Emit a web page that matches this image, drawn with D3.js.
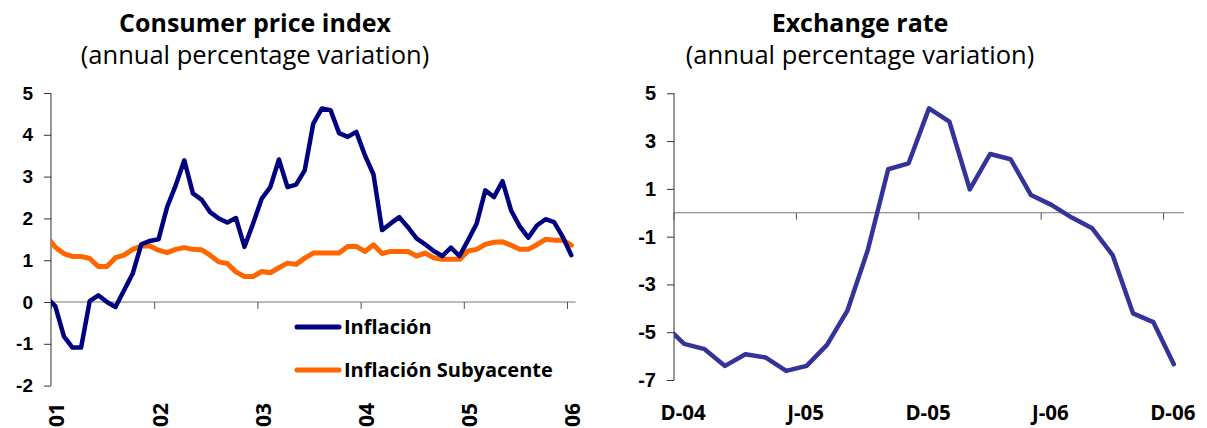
<!DOCTYPE html>
<html>
<head>
<meta charset="utf-8">
<script src="https://cdn.jsdelivr.net/npm/d3@7"></script>
<style>
  body { margin: 0; background: #fff; }
  svg { display: block; font-family: "Open Sans", Lato, sans-serif; }
</style>
</head>
<body>
<script>
// left panel: monthly, Dec-00 (cut off by the axis) then Jan-01 .. Jan-06
var yearLabels = ["01", "02", "03", "04", "05", "06"];
var inflacion = [0.1,
  -0.1, -0.82, -1.09, -1.09, 0.02, 0.16, 0.0, -0.12, 0.28, 0.68, 1.38, 1.46,
  1.5, 2.27, 2.79, 3.39, 2.6, 2.45, 2.15, 2.0, 1.9, 2.01, 1.32, 1.88,
  2.47, 2.75, 3.41, 2.75, 2.81, 3.15, 4.27, 4.63, 4.59, 4.04, 3.95, 4.07,
  3.51, 3.05, 1.72, 1.88, 2.03, 1.79, 1.52, 1.38, 1.22, 1.1, 1.3, 1.1,
  1.48, 1.88, 2.67, 2.51, 2.89, 2.19, 1.81, 1.54, 1.83, 1.98, 1.91, 1.56,
  1.12];
var subyacente = [1.57,
  1.31, 1.16, 1.09, 1.09, 1.04, 0.85, 0.85, 1.06, 1.12, 1.26, 1.34, 1.34,
  1.24, 1.18, 1.26, 1.30, 1.26, 1.25, 1.12, 0.96, 0.92, 0.72, 0.61, 0.61,
  0.73, 0.70, 0.82, 0.93, 0.90, 1.05, 1.17, 1.17, 1.17, 1.17, 1.33, 1.33,
  1.21, 1.37, 1.16, 1.21, 1.21, 1.21, 1.10, 1.17, 1.06, 1.02, 1.02, 1.02,
  1.22, 1.26, 1.38, 1.43, 1.44, 1.36, 1.26, 1.26, 1.37, 1.5, 1.48, 1.48,
  1.36];
var cpiTicks = [-2, -1, 0, 1, 2, 3, 4, 5];

// right panel: monthly, Nov-04 (cut off by the axis) then Dec-04 .. Dec-06
var fxMonths = ["Nov-04", "Dec-04", "Jan-05", "Feb-05", "Mar-05", "Apr-05", "May-05",
  "Jun-05", "Jul-05", "Aug-05", "Sep-05", "Oct-05", "Nov-05", "Dec-05", "Jan-06",
  "Feb-06", "Mar-06", "Apr-06", "May-06", "Jun-06", "Jul-06", "Aug-06", "Sep-06",
  "Oct-06", "Nov-06", "Dec-06"];
var tipoCambio = [-4.67, -5.49, -5.71, -6.41, -5.92, -6.06, -6.62, -6.41, -5.53, -4.10,
  -1.56, 1.82, 2.07, 4.37, 3.81, 0.98, 2.46, 2.24, 0.74, 0.33, -0.2, -0.65, -1.77,
  -4.21, -4.58, -6.34];
var fxTickMonths = ["Dec-04", "Jun-05", "Dec-05", "Jun-06", "Dec-06"];
var fxTickLabels = ["D-04", "J-05", "D-05", "J-06", "D-06"];
var fxTicks = [-7, -5, -3, -1, 1, 3, 5];

var W = 1207, H = 428;
var svg = d3.select("body").append("svg").attr("width", W).attr("height", H);

// plain hyphen for negatives, like the original
var fmt = function(d) { return String(d); };

function title(cx, main) {
  svg.append("text").attr("x", cx).attr("y", 32).attr("text-anchor", "middle")
    .style("font-size", "25px").style("font-weight", "bold").text(main);
  svg.append("text").attr("x", cx).attr("y", 64).attr("text-anchor", "middle")
    .style("font-size", "25.5px").text("(annual percentage variation)");
}

// ---------- left: consumer price index ----------
title(255, "Consumer price index");

var x1 = d3.scaleLinear().domain([0, 61]).range([51, 575.6]),
    y1 = d3.scaleLinear().domain([-2, 5]).range([385.6, 93]),
    yr = d3.scalePoint().domain(yearLabels).range([x1(0), x1(60)]);

svg.append("defs").append("clipPath").attr("id", "clipL")
  .append("rect").attr("x", 51).attr("y", 0).attr("width", 560).attr("height", H);
svg.append("defs").append("clipPath").attr("id", "clipR")
  .append("rect").attr("x", 674).attr("y", 0).attr("width", 533).attr("height", H);

var gy1 = svg.append("g").attr("transform", "translate(51,0)")
  .call(d3.axisLeft(y1).tickValues(cpiTicks).tickSize(7).tickPadding(11).tickFormat(fmt));
gy1.select(".domain").attr("stroke", "#333").attr("d", "M0," + y1(-2) + "V" + y1(5));
gy1.selectAll(".tick line").attr("stroke", "#333");
gy1.selectAll(".tick text").style("font-size", "19px").style("font-weight", "bold").attr("fill", "#000");

// zero line with year ticks
var gx1 = svg.append("g").attr("transform", "translate(0," + y1(0) + ")")
  .call(d3.axisBottom(yr).tickSize(7).tickFormat(""));
gx1.select(".domain").attr("stroke", "#777").attr("d", "M51,0H575.6");
gx1.selectAll(".tick line").attr("stroke", "#555");

svg.append("g").selectAll("text").data(yearLabels).enter().append("text")
  .attr("transform", function(d) { return "translate(" + (yr(d) + 6) + ",403) rotate(-90)"; })
  .attr("text-anchor", "end").attr("dy", "0.35em")
  .style("font-size", "21px").style("font-weight", "bold")
  .text(function(d) { return d; });

var line1 = d3.line()
  .x(function(d, i) { return x1(i - 0.5); })
  .y(function(d) { return y1(d); });

var left = svg.append("g").attr("clip-path", "url(#clipL)");
left.append("path").attr("d", line1(subyacente)).attr("fill", "none")
  .attr("stroke", "#ff6600").attr("stroke-width", 5)
  .attr("stroke-linejoin", "round").attr("stroke-linecap", "round");
left.append("path").attr("d", line1(inflacion)).attr("fill", "none")
  .attr("stroke", "#000080").attr("stroke-width", 4.5)
  .attr("stroke-linejoin", "round").attr("stroke-linecap", "round");

// legend
var legend = [{name: "Inflación", color: "#000080", y: 327},
              {name: "Inflación Subyacente", color: "#ff6600", y: 370}];
var lg = svg.append("g").selectAll("g").data(legend).enter().append("g");
lg.append("line").attr("x1", 297).attr("x2", 339)
  .attr("y1", function(d) { return d.y; }).attr("y2", function(d) { return d.y; })
  .attr("stroke", function(d) { return d.color; }).attr("stroke-width", 5)
  .attr("stroke-linecap", "round");
lg.append("text").attr("x", 344).attr("y", function(d) { return d.y + 7; })
  .style("font-size", "20px").style("font-weight", "bold")
  .text(function(d) { return d.name; });

// ---------- right: exchange rate ----------
title(860, "Exchange rate");

var x2 = d3.scaleBand().domain(fxMonths).range([674 - 20.4, 1184]),
    y2 = d3.scaleLinear().domain([-7, 5]).range([380, 93.3]);

var gy2 = svg.append("g").attr("transform", "translate(674,0)")
  .call(d3.axisLeft(y2).tickValues(fxTicks).tickSize(7).tickPadding(11).tickFormat(fmt));
gy2.select(".domain").attr("stroke", "#333").attr("d", "M0," + y2(-7) + "V" + y2(5));
gy2.selectAll(".tick line").attr("stroke", "#333");
gy2.selectAll(".tick text").style("font-size", "20px").style("font-weight", "bold").attr("fill", "#000");

var gx2 = svg.append("g").attr("transform", "translate(0," + y2(0) + ")");
gx2.append("line").attr("x1", 674).attr("x2", 1184).attr("stroke", "#777");
gx2.selectAll("line.tk").data(fxTickMonths).enter().append("line").attr("class", "tk")
  .attr("x1", function(d) { return x2(d); }).attr("x2", function(d) { return x2(d); })
  .attr("y1", 0).attr("y2", 7).attr("stroke", "#555");

svg.append("g").selectAll("text").data(fxTickMonths).enter().append("text")
  .attr("x", function(d) { return x2(d) + x2.bandwidth() / 2 - 1; })
  .attr("y", 420).attr("text-anchor", "middle")
  .style("font-size", "20.5px").style("font-weight", "bold")
  .text(function(d, i) { return fxTickLabels[i]; });

var line2 = d3.line()
  .x(function(d, i) { return x2(fxMonths[i]) + x2.bandwidth() / 2; })
  .y(function(d) { return y2(d); });

svg.append("g").attr("clip-path", "url(#clipR)").append("path")
  .attr("d", line2(tipoCambio)).attr("fill", "none")
  .attr("stroke", "#333399").attr("stroke-width", 4.5)
  .attr("stroke-linejoin", "round").attr("stroke-linecap", "round");
</script>
</body>
</html>
